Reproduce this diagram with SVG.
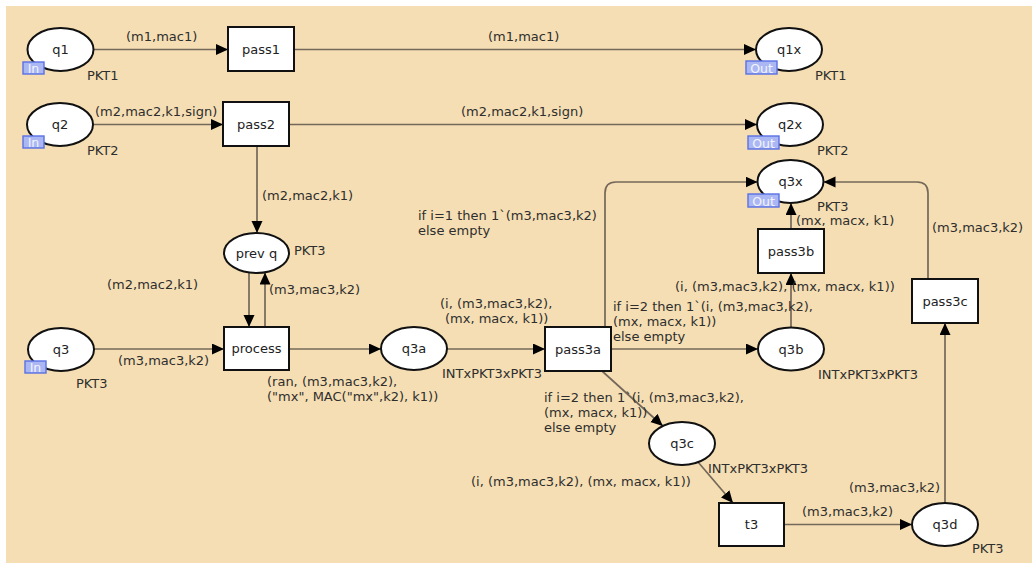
<svg xmlns="http://www.w3.org/2000/svg" width="1032" height="565" viewBox="0 0 1032 565">
<style>
text{font-family:"DejaVu Sans",Verdana,sans-serif;font-size:13px;fill:#2e2e2e}
.place{fill:#fff;stroke:#111;stroke-width:2}
.trans{fill:#fff;stroke:#111;stroke-width:2}
.nl{text-anchor:middle;dominant-baseline:central;fill:#222}
.arc{fill:none;stroke:#74685a;stroke-width:1.7;marker-end:url(#ah)}
.tag{fill:#aab7f3;stroke:#5a70e4;stroke-width:1.4}
.tagt{font-size:12.5px;fill:#f2f4ff;text-anchor:middle}
</style>
<defs>
<marker id="ah" markerUnits="userSpaceOnUse" markerWidth="13" markerHeight="12" refX="12" refY="5.5" orient="auto">
<path d="M0,0 L12,5.5 L0,11 z" fill="#000"/>
</marker>
</defs>
<rect x="6" y="6" width="1026" height="557" fill="#F5DEB3"/>

<g id="connectors">
<path class="arc" d="M94,49.5 H228"/>
<path class="arc" d="M294,49.5 H756"/>
<path class="arc" d="M93,124.5 H223"/>
<path class="arc" d="M289,124.5 H757"/>
<path class="arc" d="M257,146 V233"/>
<path class="arc" d="M249,272 V327"/>
<path class="arc" d="M265,327 V272.5"/>
<path class="arc" d="M94,349 H224"/>
<path class="arc" d="M289,349 H381"/>
<path class="arc" d="M447,349 H545"/>
<path class="arc" d="M611,349 H758"/>
<path class="arc" d="M605,327 V193 Q605,182 616,182 H757.5"/>
<path class="arc" d="M791,229 V203"/>
<path class="arc" d="M791,327.5 V273"/>
<path class="arc" d="M602,371 L662.8,426"/>
<path class="arc" d="M698,462 L733,503"/>
<path class="arc" d="M784,524.5 H912"/>
<path class="arc" d="M945,503 V323"/>
<path class="arc" d="M928,279 V193 Q928,182 917,182 H823.5"/>
</g>

<g id="arc-labels">
<text x="126" y="41">(m1,mac1)</text>
<text x="488" y="41">(m1,mac1)</text>
<text x="95" y="116">(m2,mac2,k1,sign)</text>
<text x="461" y="116">(m2,mac2,k1,sign)</text>
<text x="262" y="200">(m2,mac2,k1)</text>
<text x="107" y="289">(m2,mac2,k1)</text>
<text x="269" y="294">(m3,mac3,k2)</text>
<text x="118" y="365">(m3,mac3,k2)</text>
<text x="267" y="386">(ran, (m3,mac3,k2),</text>
<text x="267" y="401">("mx", MAC("mx",k2), k1))</text>
<text x="440" y="308">(i, (m3,mac3,k2),</text>
<text x="445" y="323">(mx, macx, k1))</text>
<text x="418" y="220">if i=1 then 1`(m3,mac3,k2)</text>
<text x="418" y="235">else empty</text>
<text x="613" y="311">if i=2 then 1`(i, (m3,mac3,k2),</text>
<text x="613" y="326">(mx, macx, k1))</text>
<text x="613" y="341">else empty</text>
<text x="675" y="291">(i, (m3,mac3,k2), (mx, macx, k1))</text>
<text x="796" y="224.5">(mx, macx, k1)</text>
<text x="932" y="232">(m3,mac3,k2)</text>
<text x="544" y="402">if i=2 then 1`(i, (m3,mac3,k2),</text>
<text x="544" y="417">(mx, macx, k1))</text>
<text x="544" y="432">else empty</text>
<text x="471" y="486">(i, (m3,mac3,k2), (mx, macx, k1))</text>
<text x="802" y="516">(m3,mac3,k2)</text>
<text x="849" y="492">(m3,mac3,k2)</text>
</g>

<g id="q1">
<ellipse class="place" cx="60.5" cy="49.5" rx="33" ry="21.5"/>
<text class="nl" x="60.5" y="49.5">q1</text>
<rect class="tag" x="23" y="62" width="21" height="12"/>
<text class="tagt" x="33.5" y="73">In</text>
<text x="87" y="80">PKT1</text>
</g>
<g id="q2">
<ellipse class="place" cx="60" cy="124.5" rx="33" ry="21.5"/>
<text class="nl" x="60" y="124.5">q2</text>
<rect class="tag" x="23" y="136" width="21" height="12"/>
<text class="tagt" x="33.5" y="147">In</text>
<text x="87" y="155">PKT2</text>
</g>
<g id="q3">
<ellipse class="place" cx="61" cy="349.5" rx="33" ry="21.5"/>
<text class="nl" x="61" y="349.5">q3</text>
<rect class="tag" x="25" y="361" width="21" height="12"/>
<text class="tagt" x="35.5" y="372">In</text>
<text x="76" y="388">PKT3</text>
</g>
<g id="q1x">
<ellipse class="place" cx="789" cy="49.5" rx="33" ry="21.5"/>
<text class="nl" x="789" y="49.5">q1x</text>
<rect class="tag" x="746" y="61" width="31" height="13"/>
<text class="tagt" x="761.5" y="72.5">Out</text>
<text x="815" y="80">PKT1</text>
</g>
<g id="q2x">
<ellipse class="place" cx="790" cy="124.5" rx="33" ry="21.5"/>
<text class="nl" x="790" y="124.5">q2x</text>
<rect class="tag" x="748" y="136" width="31" height="13"/>
<text class="tagt" x="763.5" y="147.5">Out</text>
<text x="817" y="155">PKT2</text>
</g>
<g id="q3x">
<ellipse class="place" cx="790.5" cy="181.5" rx="33" ry="21.5"/>
<text class="nl" x="790.5" y="181.5">q3x</text>
<rect class="tag" x="748" y="194" width="31" height="13"/>
<text class="tagt" x="763.5" y="205.5">Out</text>
<text x="817" y="210.5">PKT3</text>
</g>
<g id="prevq">
<ellipse class="place" cx="256.5" cy="253" rx="32.5" ry="20"/>
<text class="nl" x="256.5" y="253">prev q</text>
<text x="294" y="255">PKT3</text>
</g>
<g id="q3a">
<ellipse class="place" cx="414" cy="348.5" rx="33" ry="21.5"/>
<text class="nl" x="414" y="348.5">q3a</text>
<text x="442" y="378">INTxPKT3xPKT3</text>
</g>
<g id="q3b">
<ellipse class="place" cx="791" cy="349" rx="33" ry="21.5"/>
<text class="nl" x="791" y="349">q3b</text>
<text x="818" y="379">INTxPKT3xPKT3</text>
</g>
<g id="q3c">
<ellipse class="place" cx="682" cy="443.5" rx="33" ry="21.5"/>
<text class="nl" x="682" y="443.5">q3c</text>
<text x="708" y="473">INTxPKT3xPKT3</text>
</g>
<g id="q3d">
<ellipse class="place" cx="945" cy="524.5" rx="33" ry="21.5"/>
<text class="nl" x="945" y="524.5">q3d</text>
<text x="972" y="553">PKT3</text>
</g>
<g id="pass1">
<rect class="trans" x="228" y="27" width="66" height="44"/>
<text class="nl" x="261" y="49">pass1</text>
</g>
<g id="pass2">
<rect class="trans" x="223" y="102" width="66" height="44"/>
<text class="nl" x="256" y="124">pass2</text>
</g>
<g id="process">
<rect class="trans" x="224" y="327" width="65" height="43"/>
<text class="nl" x="256.5" y="348.5">process</text>
</g>
<g id="pass3a">
<rect class="trans" x="545" y="327" width="66" height="44"/>
<text class="nl" x="578" y="349">pass3a</text>
</g>
<g id="pass3b">
<rect class="trans" x="758" y="229" width="66" height="44"/>
<text class="nl" x="791" y="251">pass3b</text>
</g>
<g id="pass3c">
<rect class="trans" x="912" y="279" width="66" height="44"/>
<text class="nl" x="945" y="301">pass3c</text>
</g>
<g id="t3">
<rect class="trans" x="719" y="503" width="65" height="43"/>
<text class="nl" x="751.5" y="524.5">t3</text>
</g>
</svg>
